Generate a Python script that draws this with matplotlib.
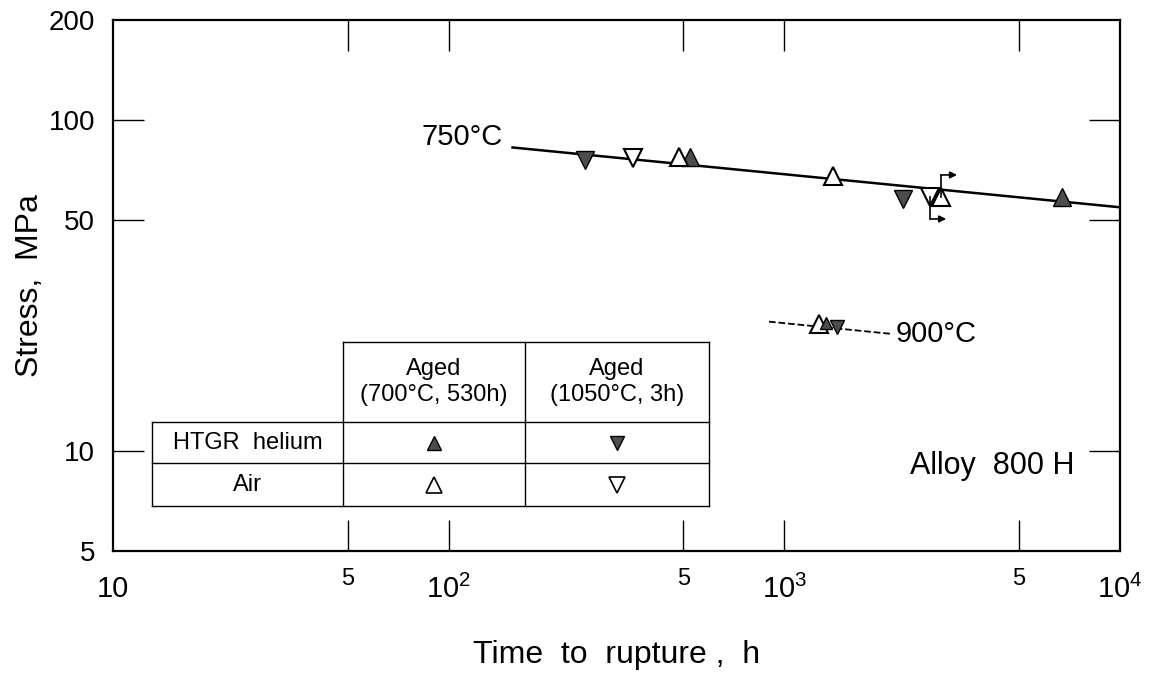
import matplotlib
matplotlib.use("Agg")
import matplotlib.pyplot as plt
import numpy as np

plt.rcParams["font.family"] = ["Liberation Sans", "DejaVu Sans"]
plt.rcParams["mathtext.fontset"] = "custom"
plt.rcParams["mathtext.rm"] = "Liberation Sans"

# 750C data (h, MPa)
he_aged700_t = [525, 6700]
he_aged700_s = [77, 58.5]
he_aged1050_t = [255, 2260]
he_aged1050_s = [75.5, 57.5]
air_aged700_t = [485, 1400, 2930]
air_aged700_s = [77, 67.5, 58.5]
air_aged1050_t = [355, 2720]
air_aged1050_s = [76.5, 58.5]
fit750_t = [155, 9900]
fit750_s = [82.5, 54.5]

# 900C data
t900_air700 = [1270]
s900_air700 = [24.2]
t900_he700 = [1330]
s900_he700 = [24.4]
t900_he1050 = [1440]
s900_he1050 = [23.7]
fit900_t = [900, 2080]
fit900_s = [24.6, 22.6]

# runout points (still running)
runout_t = [2930, 2720]
runout_s = [58.5, 58.5]

xticks = [10, 50, 100, 500, 1000, 5000, 10000]
xlabels = ["10", "5", r"$\mathrm{10^2}$", "5", r"$\mathrm{10^3}$", "5", r"$\mathrm{10^4}$"]
yticks = [5, 10, 50, 100, 200]
ylabels = ["5", "10", "50", "100", "200"]

W, H = 1159, 679
fig = plt.figure(figsize=(W / 100, H / 100), dpi=100)
ax = fig.add_axes([113 / W, 1 - 551 / H, 1007 / W, 531 / H])
ax.set_xscale("log"); ax.set_yscale("log")
ax.set_xlim(10, 1e4); ax.set_ylim(5, 200)
for s in ax.spines.values():
    s.set_linewidth(1.6)

ax.set_xticks(xticks); ax.set_xticklabels(xlabels, fontsize=21)
ax.set_yticks(yticks); ax.set_yticklabels(ylabels, fontsize=20)
ax.minorticks_off()
ax.tick_params(axis="both", direction="in", length=22, width=1.0, top=True, right=True)
ax.tick_params(axis="x", pad=17)
ax.tick_params(axis="y", pad=13)
for t in [ax.yaxis.get_major_ticks()[0], ax.yaxis.get_major_ticks()[-1],
          ax.xaxis.get_major_ticks()[0], ax.xaxis.get_major_ticks()[-1]]:
    t.tick1line.set_visible(False)
    t.tick2line.set_visible(False)
for lab in ax.get_xticklabels()[1::2]:
    lab.set_fontsize(17)
    lab.set_y(0.012)

ax.plot(fit750_t, fit750_s, "-", color="k", lw=1.8, zorder=2)
ax.plot(fit900_t, fit900_s, "--", color="k", lw=1.3, zorder=2)

ms = 13
fill = "0.3"
ax.plot(he_aged700_t, he_aged700_s, "^", ms=ms, mfc=fill, mec="k", ls="none", zorder=3)
ax.plot(he_aged1050_t, he_aged1050_s, "v", ms=ms, mfc=fill, mec="k", ls="none", zorder=3)
ax.plot(air_aged700_t, air_aged700_s, "^", ms=ms, mfc="white", mec="k", mew=1.5, ls="none", zorder=3)
ax.plot(air_aged1050_t, air_aged1050_s, "v", ms=ms, mfc="white", mec="k", mew=1.5, ls="none", zorder=3)
ax.plot(t900_air700, s900_air700, "^", ms=ms, mfc="white", mec="k", mew=1.5, ls="none", zorder=3)
ax.plot(t900_he700, s900_he700, "^", ms=8, mfc=fill, mec="k", ls="none", zorder=4)
ax.plot(t900_he1050, s900_he1050, "v", ms=10, mfc=fill, mec="k", ls="none", zorder=3)

# runout arrows
p = ax.transData.inverted().transform
for (t, s), sign in zip(zip(runout_t, runout_s), [1, -1]):
    x0, y0 = ax.transData.transform((t, s))
    y1 = y0 + sign * 22
    a = p((x0, y0)); b = p((x0, y1)); c = p((x0 + 16, y1))
    ax.plot([a[0], b[0]], [a[1], b[1]], color="k", lw=1.2, zorder=3)
    ax.annotate("", xy=c, xytext=b, arrowprops=dict(arrowstyle="-|>", color="k", lw=1.2,
                                                     mutation_scale=10, shrinkA=0, shrinkB=0))

ax.text(145, 89, "750°C", fontsize=21, ha="right", va="center")
ax.text(2150, 22.6, "900°C", fontsize=21, ha="left", va="center")
ax.text(0.955, 0.16, "Alloy  800 H", fontsize=22, ha="right", va="center", transform=ax.transAxes)

# legend table
tr = ax.transAxes
xc = [0.0387, 0.2284, 0.4091, 0.5919]
yr = [0.3936, 0.2429, 0.1657, 0.0847]
kw = dict(color="k", lw=1.0, transform=tr, zorder=5)
ax.plot([xc[1], xc[3]], [yr[0], yr[0]], **kw)
ax.plot([xc[0], xc[3]], [yr[1], yr[1]], **kw)
ax.plot([xc[0], xc[3]], [yr[2], yr[2]], **kw)
ax.plot([xc[0], xc[3]], [yr[3], yr[3]], **kw)
ax.plot([xc[0], xc[0]], [yr[1], yr[3]], **kw)
for x in xc[1:]:
    ax.plot([x, x], [yr[0], yr[3]], **kw)
mx = [(xc[1] + xc[2]) / 2, (xc[2] + xc[3]) / 2]
my = [(yr[1] + yr[2]) / 2, (yr[2] + yr[3]) / 2]
fs = 17
ax.text(mx[0], (yr[0] + yr[1]) / 2, "Aged\n(700°C, 530h)", fontsize=fs, ha="center", va="center", transform=tr, linespacing=1.2)
ax.text(mx[1], (yr[0] + yr[1]) / 2, "Aged\n(1050°C, 3h)", fontsize=fs, ha="center", va="center", transform=tr, linespacing=1.2)
ax.text((xc[0] + xc[1]) / 2, my[0], "HTGR  helium", fontsize=fs, ha="center", va="center", transform=tr)
ax.text((xc[0] + xc[1]) / 2, my[1], "Air", fontsize=fs, ha="center", va="center", transform=tr)
ax.plot(mx[0], my[0], "^", ms=10, mfc=fill, mec="k", transform=tr, zorder=6)
ax.plot(mx[1], my[0], "v", ms=10, mfc=fill, mec="k", transform=tr, zorder=6)
ax.plot(mx[0], my[1], "^", ms=12, mfc="white", mec="k", mew=1.2, transform=tr, zorder=6)
ax.plot(mx[1], my[1], "v", ms=12, mfc="white", mec="k", mew=1.2, transform=tr, zorder=6)

ax.set_xlabel("Time  to  rupture ,  h", fontsize=23)
ax.set_ylabel("Stress,  MPa", fontsize=23)
ax.xaxis.set_label_coords(0.5, -0.168)
ax.xaxis.label.set_va("top")
ax.yaxis.set_label_coords(-0.068, 0.5)

fig.savefig("out.png", dpi=100)
